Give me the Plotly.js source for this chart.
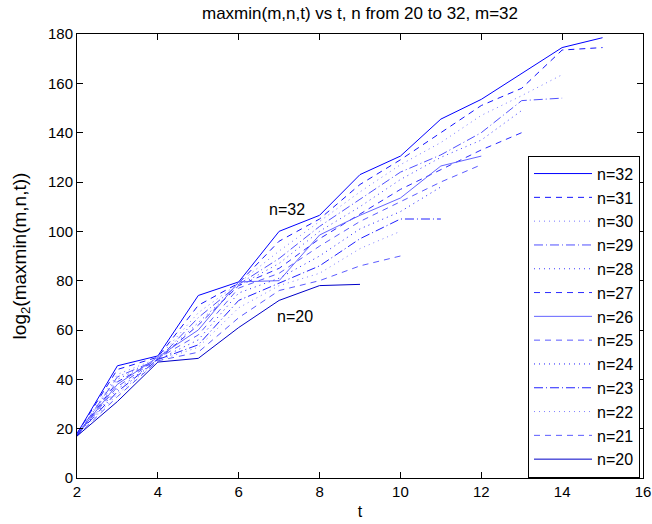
<!DOCTYPE html>
<html>
<head>
<meta charset="utf-8">
<script src="https://cdn.plot.ly/plotly-3.0.1.min.js"></script>
<style>html,body{margin:0;padding:0;background:#fff;}#chart{width:652px;height:524px;}</style>
</head>
<body>
<div id="chart"></div>
<script>
// t values shared by all series (each series uses the first values.length entries)
var tValues = [2, 3, 4, 5, 6, 7, 8, 9, 10, 11, 12, 13, 14, 15];

var seriesNames = ["n=32","n=31","n=30","n=29","n=28","n=27","n=26","n=25","n=24","n=23","n=22","n=21","n=20"];

var n32 = [18, 45.5, 49.5, 74, 79.5, 100, 106.5, 123, 130.5, 145.5, 153.5, 164, 174.5, 178.5];
var n31 = [18, 44, 49, 70, 79, 96, 105, 119, 129, 140, 151, 158, 173.5, 174.5];
var n30 = [17.5, 42, 48.5, 67, 79, 92, 104, 116, 127, 136, 147, 155, 163.5];
var n29 = [17.5, 41, 48, 65, 78.5, 89, 102, 113, 124, 131, 140, 153, 154];
var n28 = [17.5, 40, 48, 63, 78, 87, 100, 110, 121, 130, 137, 149];
var n27 = [17.5, 39, 48, 62, 78, 85, 97, 107, 117, 125, 133, 140];
var n26 = [17.5, 38, 49, 60, 79.5, 80, 98.5, 106.5, 113.5, 126.5, 130.5];
var n25 = [17.5, 37, 48.5, 58, 77, 83, 94, 104, 112, 120, 127];
var n24 = [17.5, 36, 48, 56, 75, 81, 90, 101, 108, 118];
var n23 = [17.5, 35, 48, 54, 72, 79, 86, 97, 105, 105];
var n22 = [17, 34, 47.5, 53, 69, 78, 83, 93, 100];
var n21 = [17, 33, 47.5, 51, 65, 76, 80, 86, 90];
var n20 = [17, 31, 47, 48.5, 61, 72, 78, 78.5];

var seriesValues = [n32, n31, n30, n29, n28, n27, n26, n25, n24, n23, n22, n21, n20];

var styles = [
  {color: "#0000ff", dash: "solid"},
  {color: "#1414ff", dash: "6px,5px"},
  {color: "#7a7aff", dash: "1px,4px"},
  {color: "#5050ff", dash: "9px,3px,1px,3px"},
  {color: "#3c3cff", dash: "1px,4px"},
  {color: "#2a2aff", dash: "6px,5px"},
  {color: "#6464ff", dash: "solid"},
  {color: "#5a5aff", dash: "6px,5px"},
  {color: "#1e1eff", dash: "1px,4px"},
  {color: "#2020ff", dash: "9px,3px,1px,3px"},
  {color: "#8080ff", dash: "1px,4px"},
  {color: "#5c5cff", dash: "6px,5px"},
  {color: "#0000c8", dash: "solid"}
];

var traces = seriesValues.map(function (vals, i) {
  return {
    x: tValues.slice(0, vals.length),
    y: vals,
    name: seriesNames[i],
    type: "scatter",
    mode: "lines",
    line: {color: styles[i].color, dash: styles[i].dash, width: 1}
  };
});

var FONT = "Liberation Sans, Arial, Helvetica, sans-serif";

var layout = {
  width: 652,
  height: 524,
  margin: {l: 77, r: 9, t: 34, b: 46},
  paper_bgcolor: "#ffffff",
  plot_bgcolor: "#ffffff",
  font: {family: FONT, size: 15, color: "#000"},
  showlegend: true,
  title: {
    text: "maxmin(m,n,t) vs t, n from 20 to 32, m=32",
    font: {family: FONT, size: 17, color: "#000"},
    x: 0.5, xanchor: "center", xref: "paper",
    y: 1, yref: "paper", yanchor: "bottom", pad: {b: 15}
  },
  xaxis: {
    range: [2, 16],
    tickmode: "array",
    tickvals: [2, 4, 6, 8, 10, 12, 14, 16],
    ticktext: ["2", "4", "6", "8", "10", "12", "14", "16"],
    ticks: "inside", ticklen: 6, tickcolor: "#000", tickwidth: 1,
    showline: true, linecolor: "#000", linewidth: 1, mirror: "ticks",
    showgrid: false, zeroline: false,
    tickfont: {family: FONT, size: 15, color: "#000"},
    title: {text: "t", font: {family: FONT, size: 16, color: "#000"}, standoff: 6}
  },
  yaxis: {
    range: [0, 180],
    tickmode: "array",
    tickvals: [0, 20, 40, 60, 80, 100, 120, 140, 160, 180],
    ticktext: ["0", "20", "40", "60", "80", "100", "120", "140", "160", "180"],
    ticks: "inside", ticklen: 6, tickcolor: "#000", tickwidth: 1,
    showline: true, linecolor: "#000", linewidth: 1, mirror: "ticks",
    showgrid: false, zeroline: false,
    tickfont: {family: FONT, size: 15, color: "#000"},
    title: {text: "log<sub>2</sub>(maxmin(m,n,t))", font: {family: FONT, size: 19, color: "#000"}, standoff: 16}
  },
  legend: {
    x: 0.9947, xanchor: "right", xref: "paper",
    y: 0.726, yanchor: "top", yref: "paper",
    bgcolor: "#ffffff", bordercolor: "#000", borderwidth: 1,
    font: {family: FONT, size: 16, color: "#000"},
    itemwidth: 58,
    tracegroupgap: 0
  },
  annotations: [
    {x: 7.19, y: 108.8, xref: "x", yref: "y", text: "n=32", showarrow: false,
     font: {family: FONT, size: 16, color: "#000"}},
    {x: 7.39, y: 65.5, xref: "x", yref: "y", text: "n=20", showarrow: false,
     font: {family: FONT, size: 16, color: "#000"}}
  ]
};

Plotly.newPlot("chart", traces, layout, {displayModeBar: false, staticPlot: true});
</script>
</body>
</html>
